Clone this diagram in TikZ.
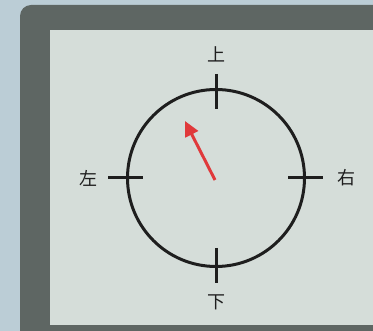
\documentclass[tikz,border=0pt]{standalone}
\usepackage{fontspec}
\newfontfamily\cjk{Noto Sans CJK SC}
\usetikzlibrary{arrows.meta}
\definecolor{bgout}{HTML}{BBCDD6}
\definecolor{frame}{HTML}{5E6663}
\definecolor{panel}{HTML}{D5DDD9}
\definecolor{ink}{HTML}{1E1E1E}
\definecolor{arrowred}{HTML}{E0393B}
\tikzset{
  lbl/.style={font=\cjk\fontsize{18}{18}\selectfont, text=ink, inner sep=0pt},
  tick/.style={draw=ink, line width=3pt},
  dial/.style={circle, draw=ink, line width=3pt, minimum size=177pt, inner sep=0pt},
  pointer/.style={draw=arrowred, line width=3pt, -{Triangle[length=15pt,width=14pt]}}
}
\begin{document}
\begin{tikzpicture}[x=1pt,y=-1pt]
\useasboundingbox (0,0) rectangle (373,331);
\fill[bgout] (0,0) rectangle (373,331);
\fill[frame, rounded corners=11pt] (20,5) rectangle (400,360);
\fill[panel] (50,30) rectangle (373,325);
\node[dial] (clock) at (216,178) {};
\coordinate (c) at (216,178);
\coordinate (t1) at (216,74);
\coordinate (t2) at (216,109);
\coordinate (b1) at (216,248);
\coordinate (b2) at (216,283);
\coordinate (l1) at (108,178);
\coordinate (l2) at (143,178);
\coordinate (r1) at (288,178);
\coordinate (r2) at (323,178);
\draw[tick] (t1) -- (t2);
\draw[tick] (b1) -- (b2);
\draw[tick] (l1) -- (l2);
\draw[tick] (r1) -- (r2);
\node[lbl] (up) at (216,54) {上};
\node[lbl] (down) at (216,302) {下};
\node[lbl] (left) at (88,178) {左};
\node[lbl] (right) at (346,178) {右};
\coordinate (tail) at (215,180);
\coordinate (tip) at (185,121);
\draw[pointer] (tail) -- (tip);
\end{tikzpicture}
\end{document}
